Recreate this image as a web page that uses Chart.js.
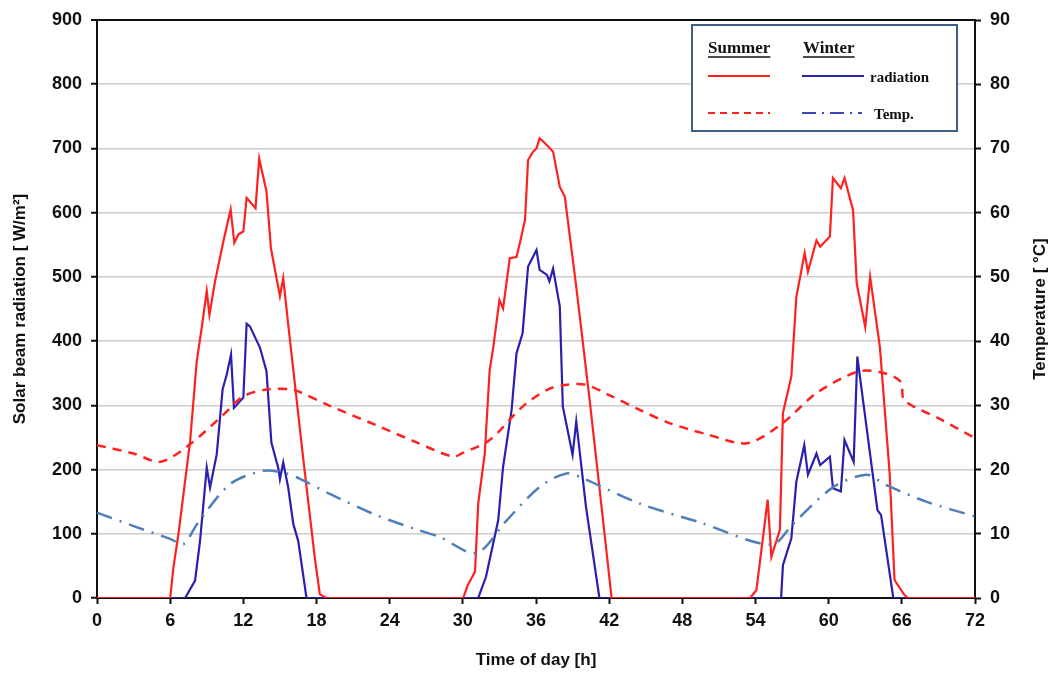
<!DOCTYPE html>
<html>
<head>
<meta charset="utf-8">
<script src="https://cdn.jsdelivr.net/npm/chart.js@4"></script>
<style>
  html, body { margin: 0; padding: 0; background: #fff; }
  #wrap { width: 1052px; height: 675px; }
</style>
</head>
<body>
<div id="wrap"><canvas id="chart" width="1052" height="675"></canvas></div>
<script>
// summer radiation [W/m2]
const summerRadHours = [0, 6.0, 6.27, 6.68, 7.64, 8.18, 8.59, 9.0, 9.22, 9.68, 10.36, 10.96, 11.26, 11.59, 12.0, 12.27, 13.0, 13.3, 13.9, 14.26, 15.0, 15.27, 15.68, 16.9, 17.86, 18.27, 18.8,
  30.03, 30.4, 31.0, 31.26, 31.8, 32.2, 32.5, 33.0, 33.3, 33.85, 34.4, 34.8, 35.1, 35.35, 35.76, 36.04, 36.3, 36.9, 37.4, 37.95, 38.36, 39.3, 40.4, 41.5, 42.2,
  53.55, 54.07, 55.0, 55.3, 56.0, 56.25, 56.94, 57.35, 58.03, 58.3, 59.0, 59.3, 60.1, 60.35, 61.0, 61.3, 62.0, 62.3, 63.0, 63.4, 64.2, 65.0, 65.4, 66.2, 66.5, 72];
const summerRadValues = [0, 0, 48, 100, 245, 369, 421, 478, 441, 493, 555, 605, 553, 566, 571, 623, 607, 684, 633, 545, 470, 498, 426, 219, 63, 6, 0,
  0, 20, 41, 147, 225, 355, 391, 464, 451, 529, 531, 563, 589, 682, 695, 700, 716, 705, 695, 640, 625, 485, 308, 121, 0,
  0, 12, 153, 64, 106, 288, 345, 469, 537, 508, 557, 547, 563, 654, 638, 654, 604, 490, 422, 500, 391, 194, 28, 5, 0, 0];

// winter radiation [W/m2]
const winterRadHours = [0, 7.23, 8.04, 8.45, 9.0, 9.27, 9.82, 10.3, 10.64, 10.99, 11.23, 12.0, 12.27, 12.54, 13.36, 13.9, 14.3, 14.86, 15.0, 15.27, 15.68, 16.1, 16.5, 17.18,
  31.26, 31.9, 32.9, 33.3, 34.0, 34.4, 34.9, 35.35, 36.04, 36.3, 36.9, 37.1, 37.4, 37.95, 38.2, 39.0, 39.3, 40.1, 41.2,
  56.1, 56.25, 56.94, 57.35, 58.0, 58.3, 59.0, 59.3, 60.1, 60.35, 61.0, 61.3, 62.05, 62.35, 63.1, 64.0, 64.3, 65.3, 72];
const winterRadValues = [0, 0, 27, 89, 203, 172, 224, 325, 348, 379, 296, 312, 427, 423, 390, 353, 242, 203, 185, 211, 172, 115, 89, 0,
  0, 33, 121, 204, 293, 381, 412, 516, 542, 511, 503, 493, 513, 454, 298, 223, 275, 142, 0,
  0, 51, 93, 181, 238, 192, 225, 207, 220, 171, 166, 246, 212, 376, 267, 137, 129, 0, 0];

// summer temperature [°C]
const summerTempHours = [0, 3, 5.2, 7.6, 10.4, 12, 14, 16, 16.6, 19, 22.9, 26, 29.2, 30.0, 32.2, 34.9, 37, 38.5, 40.1, 42, 44.5, 47, 50, 53.3, 56.2, 59, 62.3, 64.2, 65.9, 66.2, 69, 72];
const summerTempValues = [23.8, 22.5, 21.2, 23.9, 28.6, 31.4, 32.5, 32.5, 32.1, 30.0, 26.9, 24.4, 22.0, 22.6, 24.6, 29.8, 32.5, 33.2, 33.2, 31.6, 29.3, 27.2, 25.5, 24.1, 27.2, 31.9, 35.2, 35.2, 33.7, 30.8, 28.0, 24.9];

// winter temperature [°C]
const winterTempHours = [0, 3, 6, 7.1, 8.2, 10.9, 13.6, 15.3, 16.6, 19.1, 22.9, 26, 28.1, 31.1, 33.6, 36.3, 38.5, 39.9, 44.5, 49.4, 55.3, 57.1, 60.4, 63.1, 64.7, 68, 72];
const winterTempValues = [13.3, 11.2, 9.2, 8.4, 11.5, 17.7, 19.8, 19.5, 18.6, 16.2, 12.9, 10.8, 9.5, 7.0, 12.1, 17.3, 19.4, 18.6, 14.7, 11.8, 8.3, 11.6, 17.3, 19.2, 17.6, 15.0, 12.7];

const xTicks = [0, 6, 12, 18, 24, 30, 36, 42, 48, 54, 60, 66, 72];

const RED = '#ff2020';
const BLUE = '#2a20b0';
const STEEL = '#4f7fb8';

function pts(hours, values) {
  return hours.map((h, i) => ({ x: h, y: values[i] }));
}

const sans = 'Arial, "Liberation Sans", sans-serif';
const tickFont = { family: sans, size: 18, weight: 'bold' };
const titleFont = { family: sans, size: 17, weight: 'bold' };

// legend box and right axis title drawn on the canvas
const legendBox = {
  id: 'legendBox',
  afterDraw(chart) {
    const ctx = chart.ctx;
    ctx.save();
    ctx.fillStyle = '#fff';
    ctx.fillRect(692, 25, 265, 106);
    ctx.strokeStyle = '#3f5f88';
    ctx.lineWidth = 2;
    ctx.strokeRect(692, 25, 265, 106);

    ctx.fillStyle = '#111';
    ctx.font = 'bold 17px "Liberation Serif", "Times New Roman", serif';
    ctx.textBaseline = 'alphabetic';
    ctx.fillText('Summer', 708, 53);
    ctx.fillText('Winter', 803, 53);
    const w1 = ctx.measureText('Summer').width;
    const w2 = ctx.measureText('Winter').width;
    ctx.strokeStyle = '#111';
    ctx.lineWidth = 1.5;
    ctx.beginPath();
    ctx.moveTo(708, 57); ctx.lineTo(708 + w1, 57);
    ctx.moveTo(803, 57); ctx.lineTo(803 + w2, 57);
    ctx.stroke();

    ctx.font = 'bold 15px "Liberation Serif", "Times New Roman", serif';
    ctx.fillText('radiation', 870, 82);
    ctx.fillText('Temp.', 874, 119);

    ctx.lineWidth = 2;
    ctx.strokeStyle = RED;
    ctx.beginPath(); ctx.moveTo(708, 76); ctx.lineTo(770, 76); ctx.stroke();
    ctx.setLineDash([7, 5]);
    ctx.beginPath(); ctx.moveTo(708, 113); ctx.lineTo(770, 113); ctx.stroke();
    ctx.setLineDash([]);
    ctx.strokeStyle = BLUE;
    ctx.beginPath(); ctx.moveTo(802, 76); ctx.lineTo(864, 76); ctx.stroke();
    ctx.strokeStyle = '#3b45b5';
    ctx.setLineDash([14, 6, 2, 6]);
    ctx.beginPath(); ctx.moveTo(802, 113); ctx.lineTo(862, 113); ctx.stroke();
    ctx.setLineDash([]);

    // right title reads bottom to top, like the left one
    const area = chart.chartArea;
    ctx.translate(1040, (area.top + area.bottom) / 2);
    ctx.rotate(-Math.PI / 2);
    ctx.font = 'bold 17px ' + sans;
    ctx.fillStyle = '#111';
    ctx.textAlign = 'center';
    ctx.textBaseline = 'middle';
    ctx.fillText('Temperature [ °C]', 0, 0);
    ctx.restore();
  }
};

const config = {
  type: 'line',
  data: {
    datasets: [
      {
        label: 'Summer temp.',
        data: pts(summerTempHours, summerTempValues),
        yAxisID: 'y2',
        borderColor: RED,
        borderWidth: 2.5,
        borderDash: [9, 7],
        pointRadius: 0,
        tension: 0.3,
        fill: false,
      },
      {
        label: 'Winter temp.',
        data: pts(winterTempHours, winterTempValues),
        yAxisID: 'y2',
        borderColor: STEEL,
        borderWidth: 2.5,
        borderDash: [16, 8, 2, 8],
        pointRadius: 0,
        tension: 0.3,
        fill: false,
      },
      {
        label: 'Summer radiation',
        data: pts(summerRadHours, summerRadValues),
        yAxisID: 'y',
        borderColor: RED,
        borderWidth: 2.2,
        pointRadius: 0,
        tension: 0,
        fill: false,
      },
      {
        label: 'Winter radiation',
        data: pts(winterRadHours, winterRadValues),
        yAxisID: 'y',
        borderColor: BLUE,
        borderWidth: 2.2,
        pointRadius: 0,
        tension: 0,
        fill: false,
      },
    ],
  },
  options: {
    responsive: false,
    animation: false,
    layout: { padding: { top: 20, left: 0, right: 0, bottom: 0 } },
    plugins: {
      legend: { display: false },
      tooltip: { enabled: false },
    },
    scales: {
      x: {
        type: 'linear',
        min: 0,
        max: 72,
        afterBuildTicks: (scale) => { scale.ticks = xTicks.map(v => ({ value: v })); },
        afterFit: (scale) => { scale.height = 77; },
        ticks: { color: '#111', font: tickFont, padding: 6, maxRotation: 0 },
        grid: { drawOnChartArea: false, drawTicks: true, tickLength: 6, tickColor: '#111', tickWidth: 2 },
        border: { color: '#111', width: 2 },
        title: { display: true, text: 'Time of day [h]', color: '#111', font: titleFont, padding: { top: 0, bottom: 4 } },
      },
      y: {
        position: 'left',
        min: 0,
        max: 900,
        afterFit: (scale) => { scale.width = 97; },
        ticks: { stepSize: 100, color: '#111', font: tickFont, padding: 9 },
        grid: {
          color: (c) => (c.tick && c.tick.value === 900 ? '#111' : '#cccccc'),
          lineWidth: (c) => (c.tick && c.tick.value === 900 ? 2 : 1.5),
          tickLength: 6,
          tickColor: '#111',
          tickWidth: 2,
        },
        border: { color: '#111', width: 2 },
        title: { display: true, text: 'Solar beam radiation [ W/m²]', color: '#111', font: titleFont, padding: { top: 10, bottom: 0 } },
      },
      y2: {
        position: 'right',
        min: 0,
        max: 90,
        afterFit: (scale) => { scale.width = 77; },
        ticks: { stepSize: 10, color: '#111', font: tickFont, padding: 9 },
        grid: { drawOnChartArea: false, tickLength: 6, tickColor: '#111', tickWidth: 2 },
        border: { color: '#111', width: 2 },
        title: { display: false },
      },
    },
  },
  plugins: [legendBox],
};

new Chart(document.getElementById('chart'), config);
</script>
</body>
</html>
